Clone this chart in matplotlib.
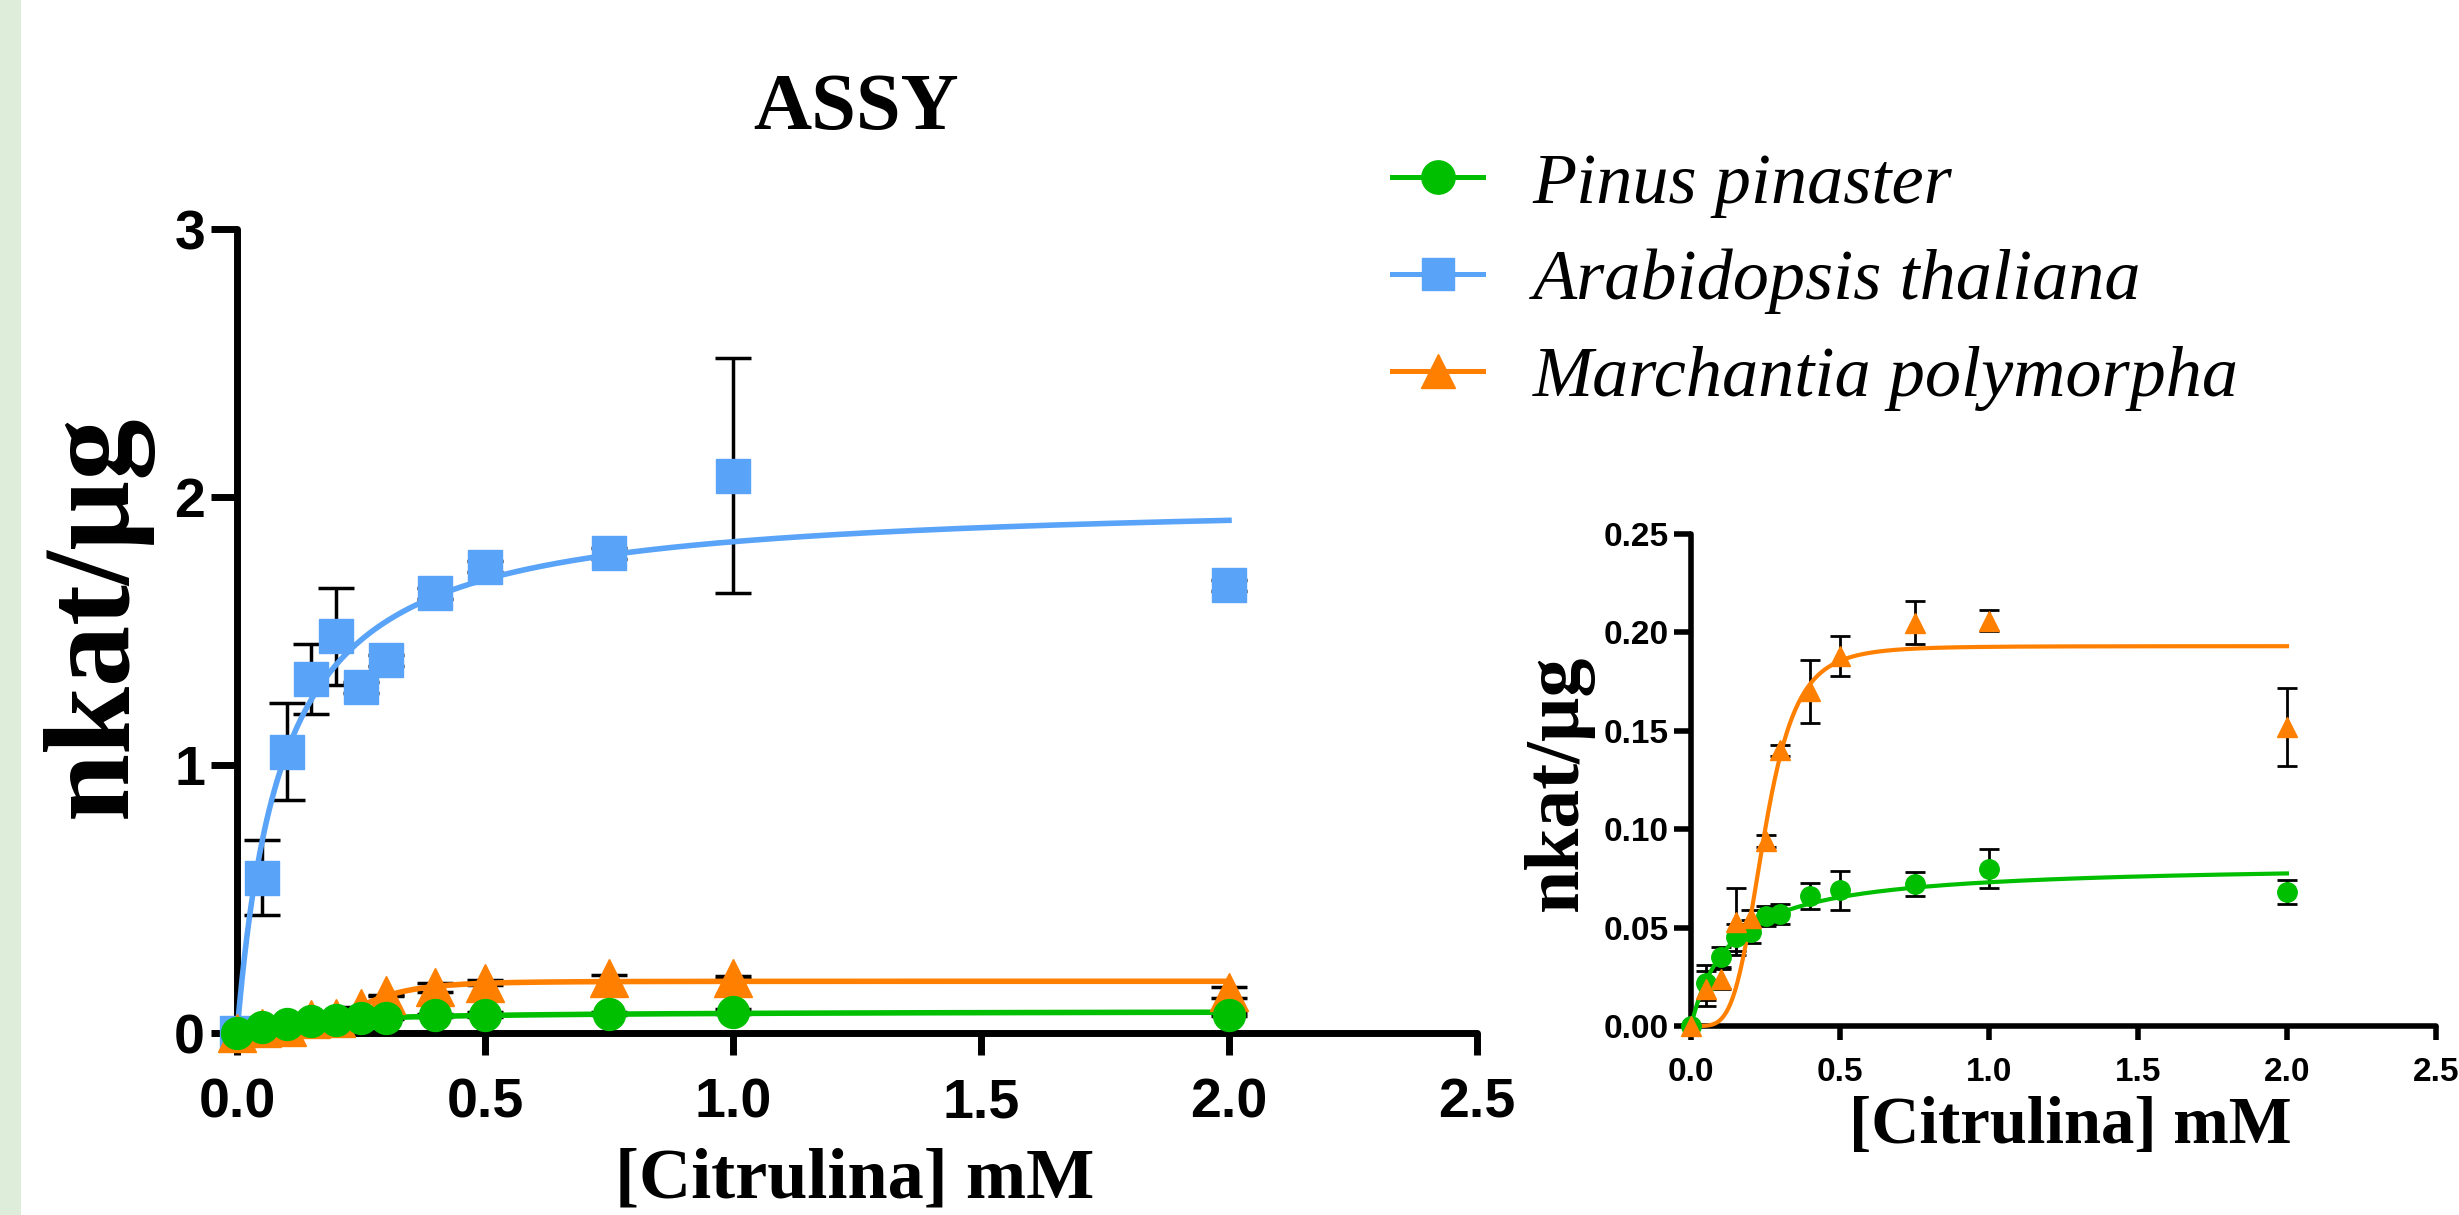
import numpy as np
import matplotlib
matplotlib.use("Agg")
import matplotlib.pyplot as plt
from matplotlib.lines import Line2D
from matplotlib.patches import Rectangle

# ---------------- data ----------------
conc = [0.0, 0.05, 0.1, 0.15, 0.2, 0.25, 0.3, 0.4, 0.5, 0.75, 1.0, 2.0]

pinus = [0.0, 0.022, 0.035, 0.045, 0.048, 0.056, 0.057, 0.066, 0.069, 0.072, 0.080, 0.068]
pinus_err = [0.0, 0.009, 0.005, 0.007, 0.006, 0.005, 0.005, 0.0065, 0.010, 0.006, 0.010, 0.006]

arab = [0.0, 0.58, 1.05, 1.32, 1.48, 1.29, 1.39, 1.64, 1.74, 1.79, 2.08, 1.67]
arab_err = [0.0, 0.14, 0.18, 0.13, 0.18, 0.02, 0.02, 0.02, 0.02, 0.02, 0.44, 0.02]

march = [0.0, 0.019, 0.024, 0.053, 0.055, 0.094, 0.140, 0.170, 0.188, 0.205, 0.206, 0.152]
march_err = [0.0, 0.009, 0.005, 0.017, 0.004, 0.003, 0.003, 0.016, 0.010, 0.011, 0.0055, 0.020]

# fitted kinetic parameters
arab_vmax, arab_km = 2.0, 0.091
pinus_vmax, pinus_km = 0.0826, 0.131
march_vmax, march_k, march_h = 0.193, 0.245, 4.5

labels = ["Pinus pinaster", "Arabidopsis thaliana", "Marchantia polymorpha"]
main_xticks = [0.0, 0.5, 1.0, 1.5, 2.0, 2.5]
main_yticks = [0, 1, 2, 3]
inset_yticks = [0.0, 0.05, 0.10, 0.15, 0.20, 0.25]

GREEN = "#00bf00"
BLUE = "#59a3f8"
ORANGE = "#ff8000"

SANS = ["Liberation Sans", "DejaVu Sans"]
SERIF = ["Liberation Serif", "DejaVu Serif"]

W, H = 2459, 1215
fig = plt.figure(figsize=(W / 100, H / 100), dpi=100)
fig.patch.set_facecolor("white")
fig.patches.append(Rectangle((0, 0), 21 / W, 1, transform=fig.transFigure,
                             facecolor="#deedd9", edgecolor="none", zorder=0))

xfit = np.linspace(0, 2.0, 400)
fit_arab = arab_vmax * xfit / (arab_km + xfit)
fit_pinus = pinus_vmax * xfit / (pinus_km + xfit)
fit_march = march_vmax * xfit ** march_h / (march_k ** march_h + xfit ** march_h)


def style_axes(ax, lw, ylen, xlen, ypad, xpad, fs):
    for s in ["top", "right"]:
        ax.spines[s].set_visible(False)
    for s in ["left", "bottom"]:
        ax.spines[s].set_linewidth(lw)
        ax.spines[s].set_capstyle("round")
    ax.tick_params(axis="y", direction="out", length=ylen, width=lw, pad=ypad, labelsize=fs)
    ax.tick_params(axis="x", direction="out", length=xlen, width=lw, pad=xpad, labelsize=fs)
    for t in ax.get_xticklabels() + ax.get_yticklabels():
        t.set_fontfamily(SANS)
        t.set_fontweight("bold")


# ---------------- main axes ----------------
ax = fig.add_axes([237 / W, 1 - 1033 / H, 1240 / W, 804 / H])
ax.set_facecolor("none")
ax.set_xlim(0, 2.5)
ax.set_ylim(0, 3)

series = [
    (arab, arab_err, fit_arab, BLUE, "s", 24.5),
    (march, march_err, fit_march, ORANGE, "^", 27),
    (pinus, pinus_err, fit_pinus, GREEN, "o", 23),
]
for i, (y, e, f, c, m, ms) in enumerate(series):
    ax.errorbar(conc, y, yerr=e, fmt="none", ecolor="black", elinewidth=2.5,
                capsize=13, capthick=2.5, zorder=2 + i * 0.1, clip_on=False)
    ax.plot(xfit, f, color=c, lw=4, zorder=3 + i * 0.1, clip_on=False)
    ax.plot(conc, y, linestyle="none", marker=m, ms=ms, color=c, mec=c,
            zorder=4 + i * 0.1, clip_on=False)

ax.set_xticks(main_xticks)
ax.set_xticklabels([f"{v:.1f}" for v in main_xticks])
ax.set_yticks(main_yticks)
ax.set_yticklabels([str(v) for v in main_yticks])
style_axes(ax, 5, 19, 16, 4, 16, 40)

fig.text(855 / W, 1 - 1180 / H, "[Citrulina] mM", ha="center", va="center",
         fontsize=52, fontweight="bold", family=SERIF)
fig.text(97 / W, 1 - 616 / H, "nkat/\u00b5g", ha="center", va="center", rotation=90,
         fontsize=88, fontweight="bold", family=SERIF)
fig.text(856 / W, 1 - 110 / H, "ASSY", ha="center", va="center",
         fontsize=58, fontweight="bold", family=SERIF)

# ---------------- inset axes ----------------
ax2 = fig.add_axes([1691 / W, 1 - 1026 / H, 745 / W, 492 / H])
ax2.set_facecolor("none")
ax2.set_xlim(0, 2.5)
ax2.set_ylim(0, 0.25)
inset_series = [
    (pinus, pinus_err, fit_pinus, GREEN, "o", 14),
    (march, march_err, fit_march, ORANGE, "^", 15),
]
for i, (y, e, f, c, m, ms) in enumerate(inset_series):
    ax2.errorbar(conc, y, yerr=e, fmt="none", ecolor="black", elinewidth=2,
                 capsize=7, capthick=2, zorder=2 + i * 0.1, clip_on=False)
    ax2.plot(xfit, f, color=c, lw=3, zorder=3 + i * 0.1, clip_on=False)
    ax2.plot(conc, y, linestyle="none", marker=m, ms=ms, color=c, mec=c,
             zorder=4 + i * 0.1, clip_on=False)
ax2.set_xticks(main_xticks)
ax2.set_xticklabels([f"{v:.1f}" for v in main_xticks])
ax2.set_yticks(inset_yticks)
ax2.set_yticklabels([f"{v:.2f}" for v in inset_yticks])
style_axes(ax2, 4, 12, 10, 4, 12, 24)

fig.text(2070 / W, 1 - 1127 / H, "[Citrulina] mM", ha="center", va="center",
         fontsize=48, fontweight="bold", family=SERIF)
fig.text(1558 / W, 1 - 783 / H, "nkat/\u00b5g", ha="center", va="center", rotation=90,
         fontsize=56, fontweight="bold", family=SERIF)

# ---------------- legend ----------------
handles = [
    Line2D([], [], color=GREEN, lw=3.6, marker="o", ms=24),
    Line2D([], [], color=BLUE, lw=3.6, marker="s", ms=23),
    Line2D([], [], color=ORANGE, lw=3.6, marker="^", ms=25),
]
leg = fig.legend(handles, labels, loc="upper left",
                 bbox_to_anchor=(1392 / W, 1 - 152 / H), frameon=False,
                 prop={"family": SERIF, "style": "italic", "size": 52},
                 handlelength=1.26, handletextpad=0.69, labelspacing=0.43,
                 borderpad=0, borderaxespad=0)

fig.savefig("out.png", dpi=100, facecolor="white")
